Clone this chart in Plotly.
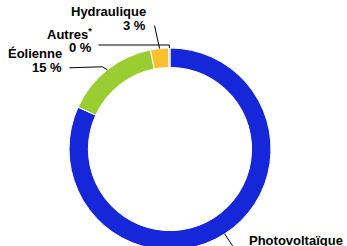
import math
import plotly.graph_objects as go

# ---- data ----
labels = ["Photovoltaïque", "Éolienne", "Hydraulique", "Autres"]
label_titles = ["Photovoltaïque", "Éolienne", "Hydraulique", "Autres<sup>*</sup>"]
values = [81.8, 15.1, 2.9, 0.2]
colors = ["#1626D9", "#9ACD32", "#FBC02D", "#9E9E9E"]

# ---- layout geometry (pixels) ----
W, H = 347, 300
cx, cy, R = 170, 149, 101
HOLE = 0.808
FONT = "Liberation Sans, Arial, sans-serif"
FS = 13

def px(x):
    return x / W

def py(y):
    return 1 - y / H

# label text anchors: (x, baseline of first line, xanchor)
label_pos = {
    "Hydraulique": (148, 16, "right"),
    "Autres": (94, 38, "right"),
    "Éolienne": (64, 58, "right"),
    "Photovoltaïque": (247, 245, "left"),
}
# leader-line waypoints relative to slice anchor point (pixel offsets)
leader = {
    "Hydraulique": [(-5, -23)],
    "Autres": [(0, -3), (-71, -3)],
    "Éolienne": [(-5, -3), (-38, -2)],
    "Photovoltaïque": [(8, 12)],
}
LINE_GAP = 14

fig = go.Figure(go.Pie(
    labels=labels, values=values, sort=False, direction="clockwise",
    rotation=0, hole=HOLE, textinfo="none", hoverinfo="label+percent",
    marker=dict(colors=colors, line=dict(color="white", width=1)),
    domain=dict(x=[px(cx - R), px(cx + R)], y=[py(cy + R), py(cy - R)]),
    showlegend=False,
))

total = sum(values)
cum = 0
annotations, shapes = [], []
for lab, title, v in zip(labels, label_titles, values):
    mid = (cum + v / 2) / total * 2 * math.pi
    cum += v
    sx = cx + R * math.sin(mid)
    sy = cy - R * math.cos(mid)
    pts = [(sx, sy)] + [(sx + dx, sy + dy) for dx, dy in leader[lab]]
    path = "M " + " L ".join(f"{px(x):.5f},{py(y):.5f}" for x, y in pts)
    shapes.append(dict(type="path", path=path, xref="paper", yref="paper",
                       line=dict(color="black", width=1)))
    x0, b0, xa = label_pos[lab]
    pct = f"{round(v / total * 100):.0f} %"
    for i, txt in enumerate([title, pct]):
        annotations.append(dict(
            x=px(x0), y=py(b0 + i * LINE_GAP - 4.5), xref="paper", yref="paper",
            xanchor=xa, yanchor="middle", showarrow=False,
            text=f"<b>{txt}</b>", align=xa,
            font=dict(family=FONT, size=FS, color="black"),
        ))

fig.update_layout(
    width=W, height=H, margin=dict(l=0, r=0, t=0, b=0),
    paper_bgcolor="white", plot_bgcolor="white",
    annotations=annotations, shapes=shapes,
)

fig.write_html(
    "out.html",
    config={"displayModeBar": False},
    post_script="document.body.style.margin='0';document.body.style.overflow='hidden';document.documentElement.style.overflow='hidden';",
)
